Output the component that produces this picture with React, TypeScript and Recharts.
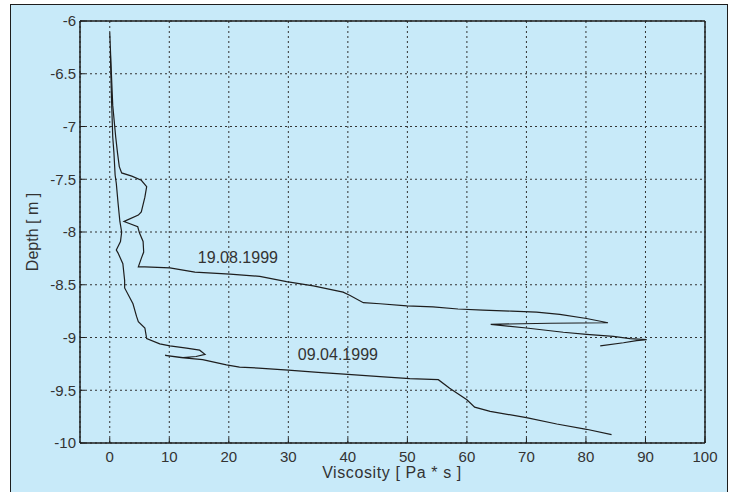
import { LineChart, Line, XAxis, YAxis, CartesianGrid, ReferenceLine, ReferenceDot } from 'recharts';

// 19.08.1999 profile (viscosity Pa*s, depth m), in drawing order
const viscAug = [
  0, 0.2, 0.5, 1.0, 1.3, 1.6, 2.0, 3.7, 5.3, 6.2, 5.9, 5.3, 4.8, 2.8, 2.4, 4.7, 5.0, 5.6, 5.7, 5.3,
  4.8, 5.9, 10.1, 14.3, 20.2, 25.2, 29.7, 34.2, 39.2, 40.3, 42.6, 45.4, 49.9, 54.3, 58.5, 62.7, 67.5,
  71.7, 75.6, 80.1, 83.7, 74, 64, 70, 76.2, 80.1, 84.6, 87.4, 90.2, 88.5, 86.3, 82.4,
];
const depthAug = [
  -6.11, -6.4, -6.8, -7.1, -7.25, -7.38, -7.44, -7.47, -7.51, -7.57, -7.67, -7.81, -7.84, -7.89, -7.9,
  -7.95, -8.01, -8.09, -8.19, -8.25, -8.33, -8.33, -8.34, -8.38, -8.4, -8.42, -8.47, -8.51, -8.57, -8.6,
  -8.67, -8.68, -8.7, -8.71, -8.73, -8.74, -8.75, -8.76, -8.78, -8.82, -8.86, -8.865, -8.875, -8.91,
  -8.95, -8.97, -8.99, -9.01, -9.02, -9.03, -9.05, -9.08,
];

// 09.04.1999 profile
const viscApr = [
  0.1, 0.3, 0.5, 0.7, 0.9, 1.1, 1.4, 1.7, 2.0, 1.8, 1.1, 1.4, 2.2, 2.5, 2.5, 3.9, 4.5, 4.8, 5.9, 6.2,
  8.4, 10.1, 12.9, 15.1, 16.0, 14.5, 12.3, 9.3, 12, 15.6, 19.6, 21.8, 25, 30, 35, 40, 45.4, 50.4, 55.2,
  57.1, 60, 61.3, 63.9, 70, 75.1, 80.1, 84.3,
];
const depthApr = [
  -6.3, -6.75, -7.1, -7.25, -7.46, -7.54, -7.73, -7.9, -8.0, -8.09, -8.17, -8.2, -8.3, -8.46, -8.53,
  -8.68, -8.8, -8.85, -8.91, -9.01, -9.06, -9.08, -9.1, -9.12, -9.16, -9.18, -9.19, -9.17, -9.19, -9.21,
  -9.26, -9.28, -9.29, -9.31, -9.33, -9.35, -9.37, -9.39, -9.4, -9.48, -9.59, -9.66, -9.7, -9.76, -9.82,
  -9.87, -9.92,
];

const xTicks = [0, 10, 20, 30, 40, 50, 60, 70, 80, 90, 100];
const yTicks = [-10, -9.5, -9, -8.5, -8, -7.5, -7, -6.5, -6];

const labelAug = { text: '19.08.1999', x: 14.8, y: -8.24 };
const labelApr = { text: '09.04.1999', x: 31.6, y: -9.16 };

const BG = '#c8eaf9';
const INK = '#1e1e1e';
const FONT = "'Liberation Sans', Arial, sans-serif";

const toPoints = (xs: number[], ys: number[]) => xs.map((x, i) => ({ x, y: ys[i] }));

export default function App() {
  const aug = toPoints(viscAug, depthAug);
  const apr = toPoints(viscApr, depthApr);
  const tickStyle = { fill: '#333', fontSize: 15, fontFamily: FONT };

  return (
    <div style={{ position: 'absolute', left: 0, top: 0, width: 730, height: 492, overflow: 'hidden', background: '#fff' }}>
      <div
        style={{
          position: 'absolute',
          left: 10,
          top: 4,
          width: 718,
          height: 520,
          boxSizing: 'border-box',
          background: BG,
          border: `1.5px solid ${INK}`,
        }}
      />
      <div style={{ position: 'absolute', left: 0, top: 0 }}>
        <LineChart width={730} height={492} margin={{ top: 21, right: 25, bottom: 19, left: 20 }}>
          <CartesianGrid stroke="#333" strokeDasharray="2 3" />
          <XAxis
            dataKey="x"
            type="number"
            domain={[-5, 100]}
            ticks={xTicks}
            height={30}
            axisLine={{ stroke: INK, strokeWidth: 1.5 }}
            tickLine={{ stroke: INK }}
            tickSize={-5}
            tickMargin={13}
            tick={tickStyle}
            allowDataOverflow
          />
          <YAxis
            type="number"
            domain={[-10, -6]}
            ticks={yTicks}
            width={60}
            axisLine={{ stroke: INK, strokeWidth: 1.5 }}
            tickLine={{ stroke: INK }}
            tickSize={-5}
            tickMargin={9}
            tick={tickStyle}
            allowDataOverflow
          />
          <ReferenceLine y={-6} stroke={INK} strokeWidth={1.5} />
          <ReferenceLine x={100} stroke={INK} strokeWidth={1.5} />
          <Line data={aug} dataKey="y" stroke={INK} strokeWidth={1.2} dot={false} isAnimationActive={false} type="linear" />
          <Line data={apr} dataKey="y" stroke={INK} strokeWidth={1.2} dot={false} isAnimationActive={false} type="linear" />
          {[labelAug, labelApr].map((l) => (
            <ReferenceDot
              key={l.text}
              x={l.x}
              y={l.y}
              r={0}
              fill="none"
              stroke="none"
              label={{ value: l.text, position: 'right', offset: 0, fill: '#333', fontSize: 16, fontFamily: FONT }}
            />
          ))}
        </LineChart>
      </div>
      <div
        style={{
          position: 'absolute',
          left: 33,
          top: 232,
          transform: 'translate(-50%, -50%) rotate(-90deg)',
          whiteSpace: 'nowrap',
          fontFamily: FONT,
          fontSize: 16,
          color: '#333',
        }}
      >
        Depth [ m ]
      </div>
      <div
        style={{
          position: 'absolute',
          left: 392,
          top: 473,
          transform: 'translate(-50%, -50%)',
          whiteSpace: 'nowrap',
          fontFamily: FONT,
          fontSize: 16,
          letterSpacing: 0.6,
          color: '#333',
        }}
      >
        Viscosity [ Pa * s ]
      </div>
    </div>
  );
}
